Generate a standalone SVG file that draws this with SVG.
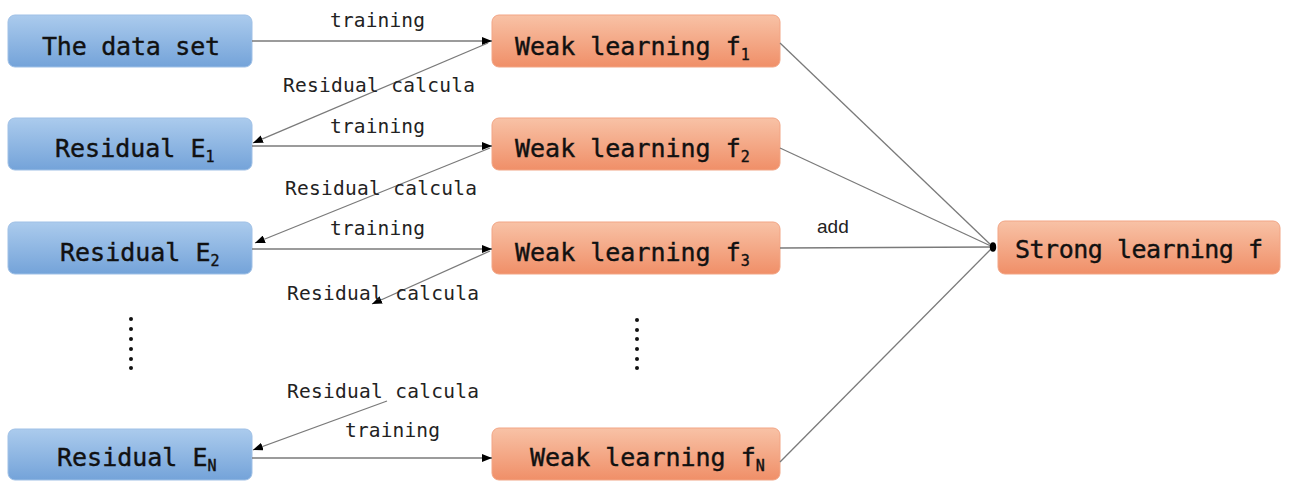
<svg xmlns="http://www.w3.org/2000/svg" width="1293" height="481" viewBox="0 0 1293 481">
<defs>
<linearGradient id="gb" x1="0" y1="0" x2="0" y2="1"><stop offset="0" stop-color="#abcbed"/><stop offset="1" stop-color="#74a3d9"/></linearGradient>
<linearGradient id="go" x1="0" y1="0" x2="0" y2="1"><stop offset="0" stop-color="#f8c2a6"/><stop offset="1" stop-color="#f08f68"/></linearGradient>
<marker id="ar" viewBox="0 0 10 8" refX="10" refY="4" markerWidth="10" markerHeight="8" markerUnits="userSpaceOnUse" orient="auto"><path d="M0,0 L10,4 L0,8 Z" fill="#000"/></marker>
<marker id="dm" viewBox="0 0 10 12" refX="5" refY="6" markerWidth="8" markerHeight="12" markerUnits="userSpaceOnUse"><ellipse cx="5" cy="6" rx="4" ry="6" fill="#000"/></marker>
</defs>
<style>
.b{fill:url(#gb);stroke:#9fc0e6;stroke-width:1}
.o{fill:url(#go);stroke:#f2a585;stroke-width:1}
.t{font-family:"DejaVu Sans Mono","Liberation Mono",monospace;font-size:25px;fill:#111;stroke:#111;stroke-width:0.4}
.s{font-size:15px}
.l{font-family:"DejaVu Sans Mono","Liberation Mono",monospace;font-size:19.5px;fill:#222}
.c{stroke:#7a7a7a;stroke-width:1.3;fill:none}
.d{fill:#111}
</style>
<g id="n-data"><rect class="b" x="8" y="15" width="244" height="52" rx="7"/><text class="t" x="42" y="55" textLength="178">The data set</text></g>
<g id="n-e1"><rect class="b" x="8" y="118" width="244" height="52" rx="7"/><text class="t" x="55" y="157">Residual E<tspan class="s" dy="5">1</tspan></text></g>
<g id="n-e2"><rect class="b" x="8" y="222" width="244" height="52" rx="7"/><text class="t" x="60" y="261">Residual E<tspan class="s" dy="5">2</tspan></text></g>
<g id="n-en"><rect class="b" x="8" y="429" width="244" height="51" rx="7"/><text class="t" x="57" y="466">Residual E<tspan class="s" dy="5">N</tspan></text></g>
<g id="n-w1"><rect class="o" x="492" y="15" width="288" height="52" rx="7"/><text class="t" x="515" y="55">Weak learning f<tspan class="s" dy="5">1</tspan></text></g>
<g id="n-w2"><rect class="o" x="492" y="118" width="288" height="52" rx="7"/><text class="t" x="515" y="157">Weak learning f<tspan class="s" dy="5">2</tspan></text></g>
<g id="n-w3"><rect class="o" x="492" y="222" width="288" height="52" rx="7"/><text class="t" x="515" y="261">Weak learning f<tspan class="s" dy="5">3</tspan></text></g>
<g id="n-wn"><rect class="o" x="492" y="428" width="288" height="52" rx="7"/><text class="t" x="530" y="466">Weak learning f<tspan class="s" dy="5">N</tspan></text></g>
<g id="n-strong"><rect class="o" x="998" y="221" width="282" height="53" rx="7"/><text class="t" x="1015" y="258" textLength="248">Strong learning f</text></g>
<g id="dots">
<circle class="d" cx="131" cy="319" r="2"/><circle class="d" cx="131" cy="329" r="2"/><circle class="d" cx="131" cy="339" r="2"/><circle class="d" cx="131" cy="349" r="2"/><circle class="d" cx="131" cy="359" r="2"/><circle class="d" cx="131" cy="368" r="2"/>
<circle class="d" cx="637" cy="320" r="2"/><circle class="d" cx="637" cy="330" r="2"/><circle class="d" cx="637" cy="339" r="2"/><circle class="d" cx="637" cy="349" r="2"/><circle class="d" cx="637" cy="359" r="2"/><circle class="d" cx="637" cy="368" r="2"/>
</g>
<g id="connectors">
<line class="c" x1="252" y1="41" x2="492" y2="41" marker-end="url(#ar)"/>
<line class="c" x1="488" y1="43" x2="253" y2="143" marker-end="url(#ar)"/>
<line class="c" x1="252" y1="146" x2="492" y2="146" marker-end="url(#ar)"/>
<line class="c" x1="490" y1="148" x2="255" y2="243" marker-end="url(#ar)"/>
<line class="c" x1="252" y1="249" x2="492" y2="249" marker-end="url(#ar)"/>
<line class="c" x1="490" y1="251" x2="372" y2="304" marker-end="url(#ar)"/>
<line class="c" x1="387" y1="401" x2="253" y2="450" marker-end="url(#ar)"/>
<line class="c" x1="252" y1="458" x2="492" y2="458" marker-end="url(#ar)"/>
<line class="c" x1="780" y1="43" x2="993" y2="247"/>
<line class="c" x1="780" y1="148" x2="993" y2="247"/>
<line class="c" x1="780" y1="248" x2="993" y2="247"/>
<line class="c" x1="780" y1="462" x2="993" y2="247" marker-end="url(#dm)"/>
<text class="l" x="330" y="27" textLength="95">training</text>
<text class="l" x="283" y="92" textLength="192">Residual calcula</text>
<text class="l" x="330" y="133" textLength="95">training</text>
<text class="l" x="285" y="195" textLength="192">Residual calcula</text>
<text class="l" x="330" y="235" textLength="95">training</text>
<text class="l" x="287" y="300" textLength="192">Residual calcula</text>
<text class="l" x="287" y="398" textLength="192">Residual calcula</text>
<text class="l" x="345" y="437" textLength="95">training</text>
<text x="817" y="233" style="font-family:'Liberation Sans',Arial,sans-serif;font-size:19px;fill:#222">add</text>
</g>
</svg>
